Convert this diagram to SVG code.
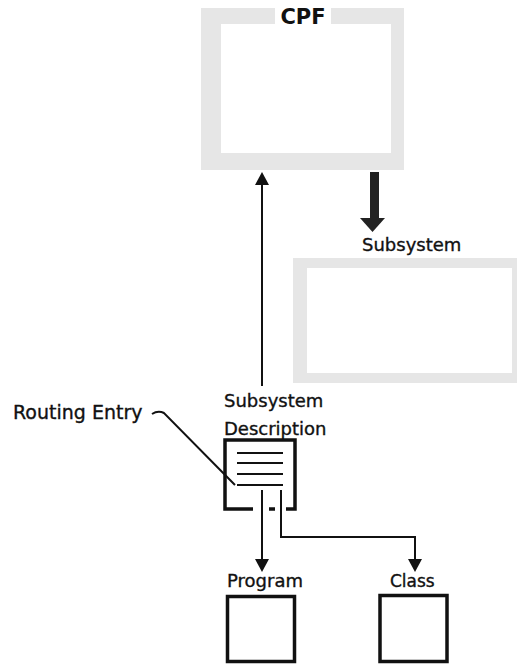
<svg xmlns="http://www.w3.org/2000/svg" width="517" height="664" viewBox="0 0 517 664">
<style>
.lbl{font-family:"DejaVu Sans","Liberation Sans",Arial,sans-serif;font-size:18px;fill:#111;stroke:#111;stroke-width:0.35}
.band{fill:#e6e6e6;fill-rule:evenodd}
.box{fill:#fff;stroke:#111;stroke-width:3.5}
.ln{stroke:#111;stroke-width:2;fill:none}
.ah{fill:#111}
</style>
<rect width="517" height="664" fill="#fff"/>
<g id="cpf">
<path class="band" d="M201,8H404V170H201Z M221,24V153H391V24Z"/>
<rect x="275" y="6" width="56" height="19" fill="#fff"/>
<text class="lbl" x="303" y="24" text-anchor="middle" style="font-size:21px;font-weight:bold;stroke-width:0">CPF</text>
</g>
<g id="subsystem">
<path class="band" d="M293,258H517V383H293Z M307,268V373H512V268Z"/>
<text class="lbl" x="362" y="251">Subsystem</text>
</g>
<g id="subsystem-description">
<text class="lbl" x="224" y="407">Subsystem</text>
<text class="lbl" x="224" y="435">Description</text>
<path d="M253,509H225V440H295V509H286" fill="none" stroke="#111" stroke-width="3.5"/>
<path d="M269,509H275" stroke="#111" stroke-width="3.5"/>
<path class="ln" d="M237,453H283M237,463H283M237,474H283M237,485H283"/>
</g>
<g id="routing-entry">
<text class="lbl" x="13" y="419" style="font-size:19px">Routing Entry</text>
</g>
<g id="program">
<text class="lbl" x="227" y="587">Program</text>
<rect class="box" x="227.5" y="596.5" width="67" height="65"/>
</g>
<g id="class">
<text class="lbl" x="390" y="587" style="font-size:17px">Class</text>
<rect class="box" x="380" y="595.5" width="67" height="66"/>
</g>
<g id="connectors">
<path class="ln" d="M262,386V182"/>
<path class="ah" d="M255,185L269,185L262,172Z"/>
<rect x="370" y="172" width="9" height="47" fill="#222"/>
<path d="M360,218L385,218L372.5,232Z" fill="#222"/>
<path class="ln" d="M152,414Q158,410 164,413L235,485"/>
<path class="ln" d="M262,490V560"/>
<path class="ah" d="M255,559L269,559L262,572Z"/>
<path class="ln" d="M281,490V537H415V560"/>
<path class="ah" d="M408,559L422,559L415,572Z"/>
</g>
</svg>
